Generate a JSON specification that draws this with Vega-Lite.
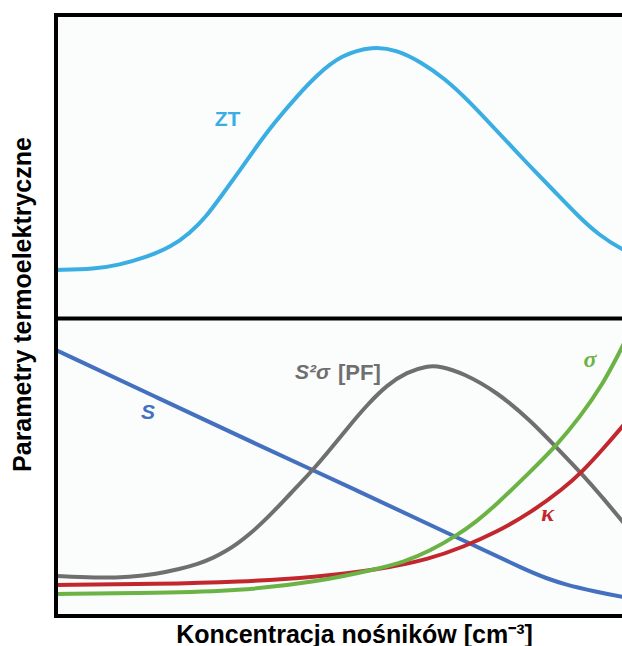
{
  "$schema": "https://vega.github.io/schema/vega-lite/v6.json",
  "width": 566,
  "height": 601,
  "autosize": {"type": "none"},
  "padding": {"left": 56, "top": 15, "right": 0, "bottom": 30},
  "background": "white",
  "config": {"view": {"stroke": null, "fill": "#fbfcfc"}},
  "datasets": {
    "curves": [
      {"series": "ZT", "x": 0, "y": 346}, {"series": "ZT", "x": 39, "y": 347}, {"series": "ZT", "x": 63, "y": 351},
      {"series": "ZT", "x": 91, "y": 359}, {"series": "ZT", "x": 115, "y": 369}, {"series": "ZT", "x": 134, "y": 383},
      {"series": "ZT", "x": 150, "y": 399}, {"series": "ZT", "x": 166, "y": 421}, {"series": "ZT", "x": 182, "y": 443},
      {"series": "ZT", "x": 198, "y": 466}, {"series": "ZT", "x": 218, "y": 493}, {"series": "ZT", "x": 242, "y": 521},
      {"series": "ZT", "x": 261, "y": 541}, {"series": "ZT", "x": 285, "y": 561}, {"series": "ZT", "x": 317, "y": 570},
      {"series": "ZT", "x": 341, "y": 566}, {"series": "ZT", "x": 365, "y": 554}, {"series": "ZT", "x": 388, "y": 538},
      {"series": "ZT", "x": 412, "y": 516}, {"series": "ZT", "x": 440, "y": 486}, {"series": "ZT", "x": 468, "y": 456},
      {"series": "ZT", "x": 500, "y": 423}, {"series": "ZT", "x": 523, "y": 399}, {"series": "ZT", "x": 543, "y": 381},
      {"series": "ZT", "x": 566, "y": 366}, {"series": "ZT", "x": 596, "y": 354},

      {"series": "S", "x": 0, "y": 266}, {"series": "S", "x": 100, "y": 219}, {"series": "S", "x": 200, "y": 172},
      {"series": "S", "x": 300, "y": 126}, {"series": "S", "x": 400, "y": 79}, {"series": "S", "x": 474, "y": 44},
      {"series": "S", "x": 490, "y": 38}, {"series": "S", "x": 507, "y": 32}, {"series": "S", "x": 541, "y": 24},
      {"series": "S", "x": 566, "y": 19}, {"series": "S", "x": 596, "y": 15},

      {"series": "PF", "x": 0, "y": 40}, {"series": "PF", "x": 39, "y": 38}, {"series": "PF", "x": 75, "y": 39},
      {"series": "PF", "x": 100, "y": 42}, {"series": "PF", "x": 124, "y": 47}, {"series": "PF", "x": 142, "y": 52},
      {"series": "PF", "x": 157, "y": 58}, {"series": "PF", "x": 170, "y": 65}, {"series": "PF", "x": 181, "y": 72},
      {"series": "PF", "x": 195, "y": 83}, {"series": "PF", "x": 207, "y": 94}, {"series": "PF", "x": 220, "y": 107},
      {"series": "PF", "x": 234, "y": 122}, {"series": "PF", "x": 257, "y": 146}, {"series": "PF", "x": 277, "y": 170},
      {"series": "PF", "x": 294, "y": 191}, {"series": "PF", "x": 311, "y": 211}, {"series": "PF", "x": 331, "y": 231},
      {"series": "PF", "x": 351, "y": 244}, {"series": "PF", "x": 371, "y": 250}, {"series": "PF", "x": 384, "y": 250},
      {"series": "PF", "x": 407, "y": 243}, {"series": "PF", "x": 441, "y": 224}, {"series": "PF", "x": 474, "y": 196},
      {"series": "PF", "x": 501, "y": 168}, {"series": "PF", "x": 527, "y": 141}, {"series": "PF", "x": 547, "y": 118},
      {"series": "PF", "x": 566, "y": 95}, {"series": "PF", "x": 596, "y": 60},

      {"series": "kappa", "x": 0, "y": 31}, {"series": "kappa", "x": 103, "y": 32}, {"series": "kappa", "x": 182, "y": 34},
      {"series": "kappa", "x": 261, "y": 39}, {"series": "kappa", "x": 321, "y": 46}, {"series": "kappa", "x": 374, "y": 57},
      {"series": "kappa", "x": 407, "y": 69}, {"series": "kappa", "x": 441, "y": 84}, {"series": "kappa", "x": 474, "y": 103},
      {"series": "kappa", "x": 507, "y": 127}, {"series": "kappa", "x": 527, "y": 145}, {"series": "kappa", "x": 547, "y": 167},
      {"series": "kappa", "x": 566, "y": 189}, {"series": "kappa", "x": 596, "y": 225},

      {"series": "sigma", "x": 0, "y": 22}, {"series": "sigma", "x": 103, "y": 23}, {"series": "sigma", "x": 182, "y": 25},
      {"series": "sigma", "x": 261, "y": 34}, {"series": "sigma", "x": 321, "y": 47}, {"series": "sigma", "x": 348, "y": 54},
      {"series": "sigma", "x": 374, "y": 65}, {"series": "sigma", "x": 400, "y": 80}, {"series": "sigma", "x": 420, "y": 94},
      {"series": "sigma", "x": 441, "y": 112}, {"series": "sigma", "x": 474, "y": 144}, {"series": "sigma", "x": 501, "y": 171},
      {"series": "sigma", "x": 524, "y": 199}, {"series": "sigma", "x": 547, "y": 232}, {"series": "sigma", "x": 566, "y": 268},
      {"series": "sigma", "x": 596, "y": 330}
    ],
    "labels": [
      {"series": "ZT", "label": "ZT", "x": 171.5, "y": 496.5},
      {"series": "S", "label": "S", "x": 85, "y": 203.5},
      {"series": "PF", "label": "S²σ", "x": 239, "y": 243},
      {"series": "PF", "label": "[PF]", "x": 282, "y": 243},
      {"series": "sigma", "label": "σ", "x": 534, "y": 256},
      {"series": "kappa", "label": "κ", "x": 491.5, "y": 102}
    ]
  },
  "encoding": {
    "x": {
      "type": "quantitative",
      "scale": {"domain": [0, 566], "nice": false, "zero": false},
      "axis": {
        "title": "Koncentracja nośników [cm⁻³]",
        "labels": false, "ticks": false, "domain": false, "grid": false,
        "titleFont": "Liberation Sans", "titleFontSize": 25, "titleFontWeight": "bold", "titleColor": "black",
        "titleX": 298, "titleY": 26, "titleBaseline": "alphabetic", "titleAlign": "center"
      }
    },
    "y": {
      "type": "quantitative",
      "scale": {"domain": [0, 601], "nice": false, "zero": false},
      "axis": {
        "title": "Parametry termoelektryczne",
        "labels": false, "ticks": false, "domain": false, "grid": false,
        "titleFont": "Liberation Sans", "titleFontSize": 25, "titleFontWeight": "bold", "titleColor": "black",
        "titleX": -26, "titleY": 289, "titleAngle": -90, "titleBaseline": "alphabetic", "titleAlign": "center"
      }
    },
    "color": {
      "field": "series", "type": "nominal",
      "scale": {"domain": ["ZT", "S", "PF", "kappa", "sigma"], "range": ["#3aaee2", "#4470c0", "#6f6f6f", "#c1272d", "#6ab344"]},
      "legend": null
    }
  },
  "layer": [
    {
      "data": {"name": "curves"},
      "mark": {"type": "line", "strokeWidth": 4, "interpolate": "basis", "clip": true},
      "encoding": {"x": {"field": "x"}, "y": {"field": "y"}}
    },
    {
      "data": {"values": [{}]},
      "mark": {"type": "rule", "color": "black", "strokeWidth": 4, "strokeCap": "square"},
      "encoding": {"y": {"datum": 0}, "color": {"value": "black"}}
    },
    {
      "data": {"values": [{}]},
      "mark": {"type": "rule", "color": "black", "strokeWidth": 4, "strokeCap": "square"},
      "encoding": {"y": {"datum": 297.5}, "color": {"value": "black"}}
    },
    {
      "data": {"values": [{}]},
      "mark": {"type": "rule", "color": "black", "strokeWidth": 4, "strokeCap": "square"},
      "encoding": {"y": {"datum": 601}, "color": {"value": "black"}}
    },
    {
      "data": {"values": [{}]},
      "mark": {"type": "rule", "color": "black", "strokeWidth": 4, "strokeCap": "square"},
      "encoding": {"x": {"datum": 0}, "color": {"value": "black"}}
    },
    {
      "data": {"name": "labels"},
      "transform": [{"filter": "datum.label === 'ZT'"}],
      "mark": {"type": "text", "font": "Liberation Sans", "fontSize": 21, "fontWeight": "bold", "baseline": "middle", "align": "center"},
      "encoding": {"x": {"field": "x"}, "y": {"field": "y"}, "text": {"field": "label"}}
    },
    {
      "data": {"name": "labels"},
      "transform": [{"filter": "datum.label === 'S' || datum.label === 'S²σ'"}],
      "mark": {"type": "text", "font": "Liberation Sans", "fontSize": 21, "fontWeight": "bold", "fontStyle": "italic", "baseline": "middle", "align": "left"},
      "encoding": {"x": {"field": "x"}, "y": {"field": "y"}, "text": {"field": "label"}}
    },
    {
      "data": {"name": "labels"},
      "transform": [{"filter": "datum.label === '[PF]'"}],
      "mark": {"type": "text", "font": "Liberation Sans", "fontSize": 22, "fontWeight": "bold", "baseline": "middle", "align": "left"},
      "encoding": {"x": {"field": "x"}, "y": {"field": "y"}, "text": {"field": "label"}}
    },
    {
      "data": {"name": "labels"},
      "transform": [{"filter": "datum.label === 'σ' || datum.label === 'κ'"}],
      "mark": {"type": "text", "font": "Liberation Serif", "fontSize": 24, "fontWeight": "bold", "fontStyle": "italic", "baseline": "middle", "align": "center"},
      "encoding": {"x": {"field": "x"}, "y": {"field": "y"}, "text": {"field": "label"}}
    }
  ]
}
